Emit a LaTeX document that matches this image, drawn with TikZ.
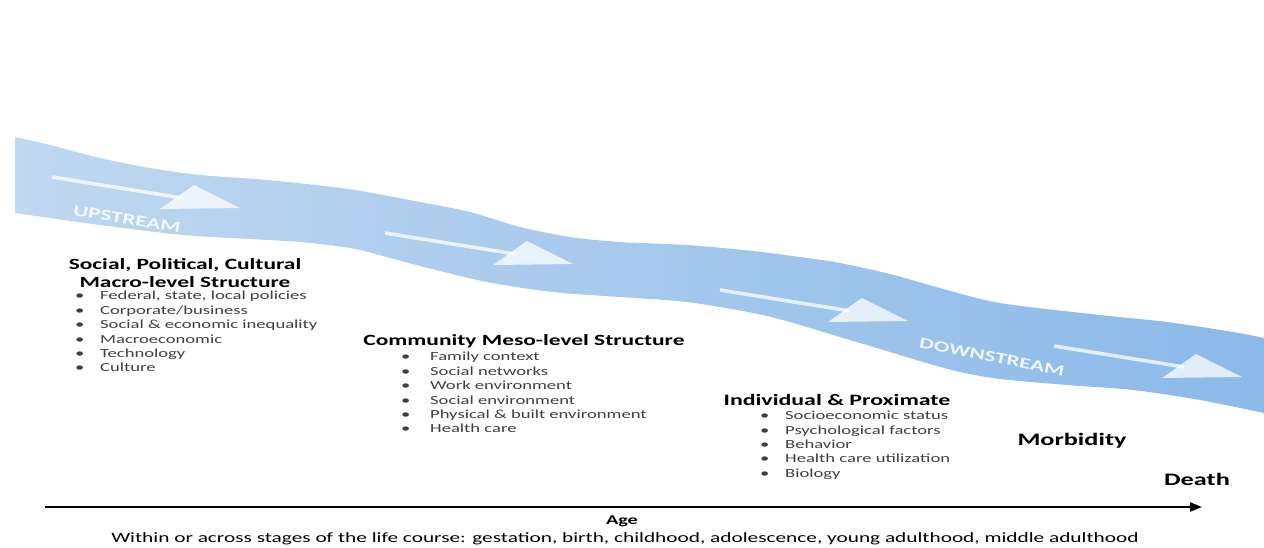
\documentclass[tikz,border=0pt]{standalone}
\usepackage{fontspec}
\setmainfont{Carlito}[FakeStretch=1.5]
\usetikzlibrary{arrows.meta}
\definecolor{rivL}{RGB}{192,216,240}
\definecolor{rivR}{RGB}{139,185,233}
\definecolor{itemgray}{RGB}{64,64,64}
\newcommand\bl[2]{\makebox[#1][l]{\textbullet}#2}
\tikzset{
  hd/.style={font=\bfseries\fontsize{15.6}{18}\selectfont, text=black, inner sep=0pt, align=center},
  big/.style={font=\bfseries\fontsize{17.5}{20}\selectfont, text=black, inner sep=0pt},
  items/.style={font=\fontsize{12.4}{14.4}\selectfont, text=itemgray, inner sep=0pt, align=left, anchor=north west},
  flow/.style={font=\bfseries\fontsize{15.5}{18}\selectfont, text=white, text opacity=0.85, inner sep=0pt},
  riverarrow/.style={fill=white, fill opacity=0.75, draw=none},
  shaft/.style={draw=white, draw opacity=0.75, line width=3.6pt},
  axis/.style={draw=black, line width=2.2pt, -{Triangle[length=12pt,width=9pt]}}
}
\begin{document}
\begin{tikzpicture}[x=1pt,y=-1pt]
\useasboundingbox (0,0) rectangle (1264,547);
% ribbon
\shade[left color=rivL, right color=rivR]
  plot[smooth, tension=0.5] coordinates {(15,137) (50,145) (100,158) (150,168) (200,175) (267,180) (333,187) (367,192) (420,202) (470,212) (520,227) (570,237) (620,242) (687,245) (753,251) (800,257) (840,263) (890,274) (940,288) (1000,303) (1100,315) (1167,322) (1233,332) (1264,338)}
  -- plot[smooth, tension=0.5] coordinates {(1264,413) (1200,400) (1133,390) (1067,385) (1000,379) (960,372) (923,362) (890,352) (840,337) (790,322) (753,313) (687,302) (620,297) (553,292) (487,282) (420,266) (383,256) (350,248) (300,242) (250,239) (183,235) (100,225) (15,213)} -- cycle;
% flow arrows
\foreach \tx/\ty in {240/208, 573/264, 908/321, 1242/377}{
  \draw[shaft] (\tx-188,\ty-31) -- (\tx-58,\ty-10);
  \fill[riverarrow] (\tx,\ty) -- (\tx-46,\ty-23) -- (\tx-80,\ty+1) -- cycle;
}
\node[flow, rotate=-9] (up) at (127,219) {UPSTREAM};
\node[flow, rotate=-11] (down) at (992,357) {DOWNSTREAM};
% macro
\node[hd] (macro) at (185,273) {Social, Political, Cultural\\Macro-level Structure};
\node[items] (macrolist) at (75,291) {\bl{25pt}{Federal, state, local policies}\\
\bl{25pt}{Corporate/business}\\
\bl{25pt}{Social \& economic inequality}\\
\bl{25pt}{Macroeconomic}\\
\bl{25pt}{Technology}\\
\bl{25pt}{Culture}};
% meso
\node[hd] (meso) at (524,341) {Community Meso-level Structure};
\node[items] (mesolist) at (401,352) {\bl{29pt}{Family context}\\
\bl{29pt}{Social networks}\\
\bl{29pt}{Work environment}\\
\bl{29pt}{Social environment}\\
\bl{29pt}{Physical \& built environment}\\
\bl{29pt}{Health care}};
% individual
\node[hd, font=\bfseries\fontsize{15.9}{18}\selectfont] (indiv) at (837,400) {Individual \& Proximate};
\node[items] (indivlist) at (760,411) {\bl{25pt}{Socioeconomic status}\\
\bl{25pt}{Psychological factors}\\
\bl{25pt}{Behavior}\\
\bl{25pt}{Health care utilization}\\
\bl{25pt}{Biology}};
\node[big] (morb) at (1072,441) {Morbidity};
\node[big] (death) at (1197,479) {Death};
% age axis
\coordinate (axL) at (45,507);
\coordinate (axR) at (1202,507);
\draw[axis] (axL) -- (axR);
\node[font=\bfseries\fontsize{13.5}{15}\selectfont, inner sep=0pt] (age) at (622,521) {Age};
\node[font=\fontsize{14.2}{16}\selectfont, inner sep=0pt] (stages) at (625,539) {Within or across stages of the life course: gestation, birth, childhood, adolescence, young adulthood, middle adulthood};
\end{tikzpicture}
\end{document}
